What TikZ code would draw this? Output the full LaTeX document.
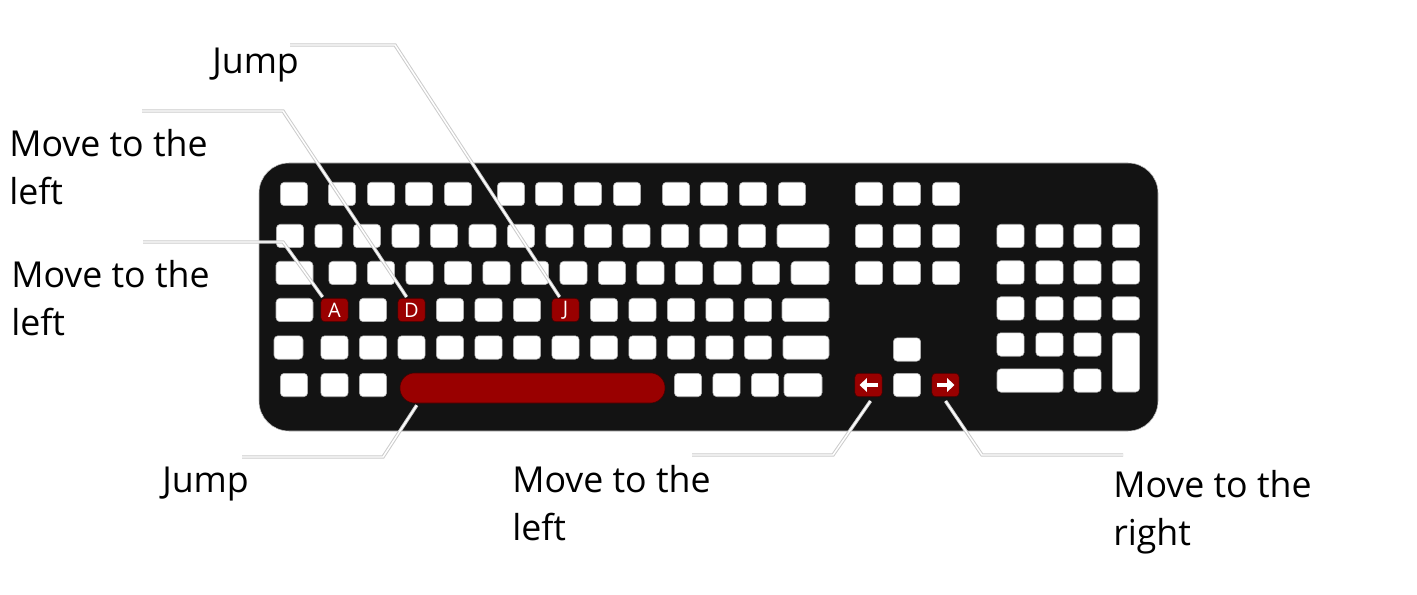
\documentclass[tikz,border=0pt]{standalone}
\usepackage{fontspec}
\setmainfont{Open Sans}
\usetikzlibrary{arrows.meta,calc}
\definecolor{kbBody}{RGB}{19,19,19}
\definecolor{kbRed}{RGB}{153,0,0}
\definecolor{kbRedEdge}{RGB}{70,0,0}
\tikzset{
	key/.style={
		fill=white,
		draw=gray!60,
		line width=0.4pt,
		rounded corners=3pt,
		minimum width=20.5pt,
		minimum height=17.6pt,
		inner sep=0pt
	},
	hotkey/.style={key, fill=kbRed, draw=kbRedEdge, text=white, font=\fontsize{15}{15}\selectfont},
	leader/.style={draw=white, line width=1.1pt, preaction={draw=gray!40, line width=2.6pt}},
	lbl/.style={anchor=base west, align=left, inner sep=0pt, font=\fontsize{26.8}{36}\selectfont},
	arrowkey/.style={white, line width=2.6pt, -{Triangle[length=5.5pt,width=10pt]}}
}

\begin{document}
\begin{tikzpicture}[x=0.75pt, y=-0.75pt]
	\useasboundingbox (0,0) rectangle (1417,595);
	\fill[white] (0,0) rectangle (1417,595);
	\draw[fill=kbBody, draw=gray!50, rounded corners=22.5pt] (259,163) rectangle (1158,431);
	% main block
	\foreach \cx [count=\i] in {294,342,381,419,458,511,549,588,627,676,714,753,792}
		\node[key] (rowOne-\i) at (\cx,194) {};
	\foreach \i in {0,...,12}
		\node[key] (rowTwo-\i) at ({290+38.5*\i},236) {};
	\node[key, minimum width=39pt] (rowTwo-wide) at (803,236) {};
	\node[key, minimum width=27.75pt] (rowThree-wideL) at (294.5,273) {};
	\foreach \i in {0,...,11}
		\node[key] (rowThree-\i) at ({342.5+38.5*\i},273) {};
	\node[key, minimum width=28.5pt] (rowThree-wideR) at (810,273) {};
	\node[key, minimum width=27.75pt] (rowFour-wideL) at (294.5,310) {};
	\node[hotkey] (keyA) at (334.5,310) {A};
	\node[hotkey] (keyD) at (411.5,310) {D};
	\node[hotkey] (keyJ) at (565.5,310) {J};
	\foreach \i in {1,3,4,5,7,8,9,10,11}
		\node[key] (rowFour-\i) at ({334.5+38.5*\i},310) {};
	\node[key, minimum width=35.25pt] (rowFour-wideR) at (805.5,310) {};
	\node[key, minimum width=21.75pt] (rowFive-wideL) at (288.5,347.5) {};
	\foreach \i in {0,...,11}
		\node[key] (rowFive-\i) at ({334.5+38.5*\i},347.5) {};
	\node[key, minimum width=34.5pt] (rowFive-wideR) at (806,347.5) {};
	\foreach \cx [count=\i] in {294,334.5,373,688,726.5,765}
		\node[key] (rowSix-\i) at (\cx,385) {};
	\node[key, minimum width=28.5pt] (rowSix-wide) at (803,385) {};
	\node[key, fill=kbRed, draw=kbRedEdge, minimum width=198.75pt, minimum height=22.5pt, rounded corners=11pt] (space) at (532.5,388) {};
	% navigation and arrows
	\foreach \cy in {194,236,273}
		\foreach \cx in {869,907,946}
			\node[key] (nav-\cx-\cy) at (\cx,\cy) {};
	\node[key] (keyUp) at (907,349.5) {};
	\node[hotkey] (keyLeft) at (868.5,385) {};
	\node[key] (keyDown) at (907,385) {};
	\node[hotkey] (keyRight) at (945.5,385) {};
	\draw[arrowkey] ($(keyLeft.center)+(9,0)$) -- ($(keyLeft.center)+(-9,0)$);
	\draw[arrowkey] ($(keyRight.center)+(-9,0)$) -- ($(keyRight.center)+(9,0)$);
	% numpad
	\foreach \cy in {236,272.5,308.5}
		\foreach \cx in {1010.5,1049.5,1087.5,1126}
			\node[key] (num-\cx-\cy) at (\cx,\cy) {};
	\foreach \cx in {1010.5,1049.5,1087.5}
		\node[key] (num-\cx-344) at (\cx,344.5) {};
	\node[key, minimum height=44.25pt] (numPlus) at (1126,362.5) {};
	\node[key, minimum width=49.5pt] (numZero) at (1030,380.5) {};
	\node[key] (numDot) at (1087.5,380.5) {};
	% labels
	\node[lbl] (jumpTop) at (212,74) {Jump};
	\node[lbl] (leftD) at (9,205) {Move to the\\left};
	\node[lbl] (leftA) at (11,335) {Move to the\\left};
	\node[lbl] (jumpBottom) at (162,492) {Jump};
	\node[lbl] (leftArrow) at (512,540) {Move to the\\left};
	\node[lbl] (rightArrow) at (1113,545) {Move to the\\right};
	% leaders
	\coordinate (jumpTopEnd) at (290,45);
	\coordinate (jumpTopBend) at (395,45);
	\coordinate (leftDEnd) at (142,111);
	\coordinate (leftDBend) at (283,111);
	\coordinate (leftAEnd) at (143,242);
	\coordinate (leftABend) at (283,242);
	\coordinate (jumpBottomEnd) at (242,457);
	\coordinate (jumpBottomBend) at (383,457);
	\coordinate (leftArrowEnd) at (692,455);
	\coordinate (leftArrowBend) at (833,455);
	\coordinate (rightArrowEnd) at (1123,455);
	\coordinate (rightArrowBend) at (982,455);
	\draw[leader] (jumpTopEnd) -- (jumpTopBend) -- ($(keyJ.north west)+(8,-1)$);
	\draw[leader] (leftDEnd) -- (leftDBend) -- ($(keyD.north west)+(9,-1)$);
	\draw[leader] (leftAEnd) -- (leftABend) -- ($(keyA.north west)+(2,-1)$);
	\draw[leader] (jumpBottomEnd) -- (jumpBottomBend) -- ($(space.south west)+(17,2)$);
	\draw[leader] (leftArrowEnd) -- (leftArrowBend) -- ($(keyLeft.south)+(2,4)$);
	\draw[leader] (rightArrowEnd) -- (rightArrowBend) -- ($(keyRight.south)+(0,4)$);
\end{tikzpicture}
\end{document}
